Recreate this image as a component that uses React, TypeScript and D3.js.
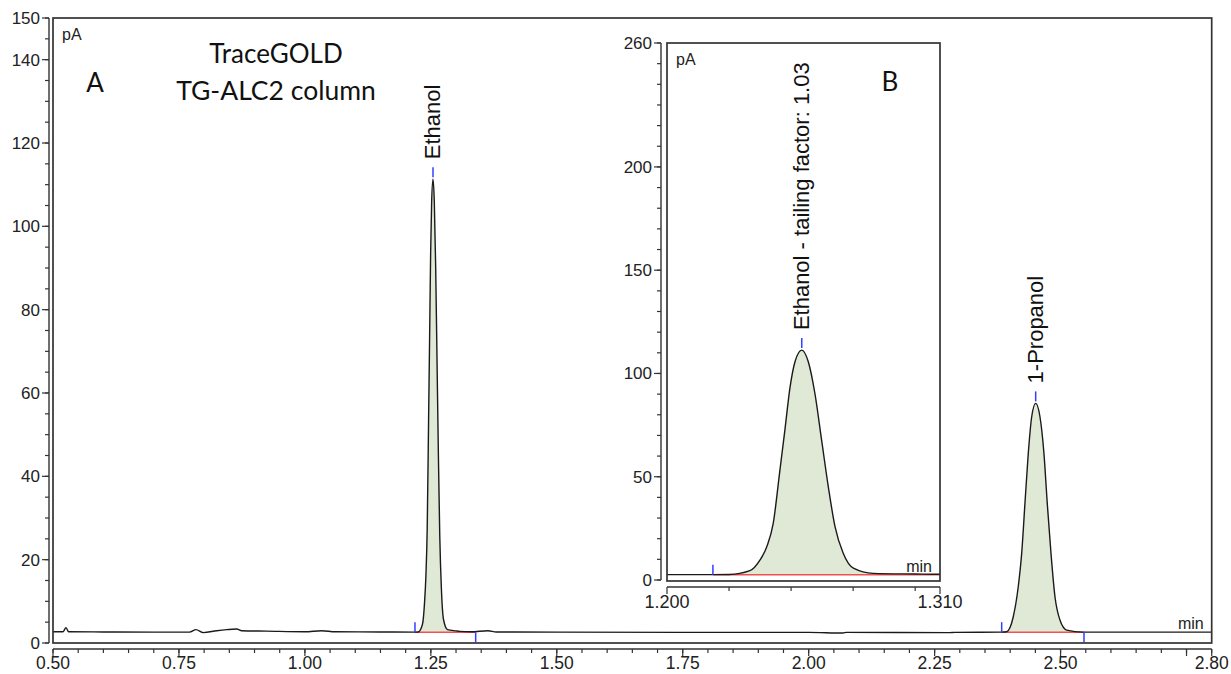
import React, { useEffect, useRef } from 'react';
import * as d3 from 'd3';

// trace: [retention time (min), signal (pA)]
const baselineBefore: [number, number][] = [
  [0.5, 2.7], [0.52, 2.7], [0.5258, 3.7], [0.531, 2.7], [0.6, 2.65], [0.7, 2.6],
  [0.771, 2.6], [0.7838, 3.2], [0.7983, 2.5], [0.825, 2.95], [0.845, 3.2],
  [0.8646, 3.35], [0.8746, 2.95], [0.924, 2.85], [1.0, 2.7], [1.0333, 2.95],
  [1.06, 2.7], [1.15, 2.65], [1.2185, 2.6], [1.225, 2.65],
];
const ethanolPeak: [number, number][] = [
  [1.2334, 4.5], [1.2375, 9.7], [1.2402, 16.1], [1.2428, 27.4], [1.2455, 53.2],
  [1.2475, 72.6], [1.2496, 93.5], [1.2516, 105.8], [1.2543, 111.3], [1.2569, 105.8],
  [1.2596, 90.3], [1.2623, 67.7], [1.265, 45.1], [1.2677, 25.8], [1.271, 12.9],
  [1.2751, 5.7], [1.2831, 3.2],
];
const baselineMiddle: [number, number][] = [
  [1.3, 2.9], [1.3072, 2.8], [1.33, 2.7], [1.3634, 2.95], [1.38, 2.65], [1.5, 2.6],
  [1.75, 2.55], [2.0, 2.55], [2.068, 2.4], [2.075, 2.55], [2.28, 2.5], [2.29, 2.55],
  [2.3831, 2.6], [2.393, 2.7],
];
const propanolPeak: [number, number][] = [
  [2.4061, 6.3], [2.416, 13.5], [2.4228, 21.5], [2.4293, 33.5], [2.4359, 45.5],
  [2.4427, 54.3], [2.4506, 57.5], [2.4591, 54.3], [2.467, 45.5], [2.4736, 33.5],
  [2.481, 21.5], [2.4889, 11.1], [2.4988, 5.5], [2.5121, 3.1],
];
const baselineAfter: [number, number][] = [[2.5445, 2.6], [2.7, 2.6], [2.8, 2.6]];

const peaks = [
  { name: 'Ethanol', inset: 'Ethanol - tailing factor: 1.03', data: ethanolPeak, limits: [1.2185, 1.339] },
  { name: '1-Propanol', inset: '', data: propanolPeak, limits: [2.3831, 2.5465] },
];
const integrationBase = 2.6;

const mainYLabels = [0, 20, 40, 60, 80, 100, 120, 140, 150];
const mainXLabels = [0.5, 0.75, 1.0, 1.25, 1.5, 1.75, 2.0, 2.25, 2.5, 2.8];
const insetYLabels = [0, 50, 100, 150, 200, 260];
const insetXLabels = [1.2, 1.31];

const W = 1231;
const H = 674;
const tickFont = 'Liberation Sans, Arial, sans-serif';
const titleFont = 'Lato, Open Sans, sans-serif';
const traceColor = '#1a1a1a';
const fillColor = '#e0e8d6';
const redColor = '#f05050';
const blueColor = '#3040ff';

const App = () => {
  const svgRef = useRef<SVGSVGElement>(null);

  useEffect(() => {
    const trace = [...baselineBefore, ...ethanolPeak, ...baselineMiddle, ...propanolPeak, ...baselineAfter];

    const svg = d3.select(svgRef.current);
    svg.selectAll('*').remove();
    svg.attr('viewBox', [0, 0, W, H]);

    const drawPanel = (opts) => {
      const { x, y, frame, yAxisX, xAxisY, yTicks, yMinor, xTicks, xMinor, xLabels, yLabels, fmtX, id, peakList } = opts;
      const g = svg.append('g');

      g.append('defs').append('clipPath').attr('id', id)
        .append('rect')
        .attr('x', frame.left).attr('y', frame.top)
        .attr('width', frame.right - frame.left).attr('height', frame.bottom - frame.top);

      g.append('rect')
        .attr('x', frame.left).attr('y', frame.top)
        .attr('width', frame.right - frame.left).attr('height', frame.bottom - frame.top)
        .attr('fill', 'white');

      const plot = g.append('g').attr('clip-path', `url(#${id})`);

      // peak fills down to the integration baseline
      peakList.forEach((p, i) => {
        const cid = `${id}-fill-${i}`;
        g.append('defs').append('clipPath').attr('id', cid)
          .append('rect')
          .attr('x', x(p.limits[0])).attr('y', frame.top)
          .attr('width', x(p.limits[1]) - x(p.limits[0])).attr('height', frame.bottom - frame.top);
        plot.append('path')
          .datum(trace)
          .attr('clip-path', `url(#${cid})`)
          .attr('fill', fillColor)
          .attr('d', d3.area<[number, number]>()
            .x(d => x(d[0]))
            .y0(y(integrationBase))
            .y1(d => y(d[1]))
            .curve(d3.curveMonotoneX));
      });

      // red integration baselines
      peakList.forEach(p => {
        plot.append('line')
          .attr('x1', x(p.limits[0])).attr('x2', x(p.limits[1]))
          .attr('y1', y(integrationBase)).attr('y2', y(integrationBase))
          .attr('stroke', redColor).attr('stroke-width', 1.5);
      });

      plot.append('path')
        .datum(trace)
        .attr('fill', 'none')
        .attr('stroke', traceColor)
        .attr('stroke-width', 1.4)
        .attr('d', d3.line<[number, number]>().x(d => x(d[0])).y(d => y(d[1])).curve(d3.curveMonotoneX));

      // integration start/end markers and apex markers
      peakList.forEach(p => {
        const by = y(integrationBase);
        plot.append('line')
          .attr('x1', x(p.limits[0])).attr('x2', x(p.limits[0]))
          .attr('y1', by - 10).attr('y2', by)
          .attr('stroke', blueColor).attr('stroke-width', 1.5);
        plot.append('line')
          .attr('x1', x(p.limits[1])).attr('x2', x(p.limits[1]))
          .attr('y1', by).attr('y2', by + 10)
          .attr('stroke', blueColor).attr('stroke-width', 1.5);

        const apex = d3.greatest(p.data, d => d[1]);
        const ax = x(apex[0]);
        const ay = y(apex[1]);
        g.append('line')
          .attr('x1', ax).attr('x2', ax)
          .attr('y1', ay - 12).attr('y2', ay - 2)
          .attr('stroke', blueColor).attr('stroke-width', 1.5);
        const label = opts.inset ? p.inset : p.name;
        if (label) {
          g.append('text')
            .attr('transform', `translate(${ax + 7},${ay - 20}) rotate(-90)`)
            .attr('font-family', tickFont)
            .attr('font-size', 22)
            .attr('fill', '#111')
            .text(label);
        }
      });

      g.append('rect')
        .attr('x', frame.left).attr('y', frame.top)
        .attr('width', frame.right - frame.left).attr('height', frame.bottom - frame.top)
        .attr('fill', 'none')
        .attr('stroke', '#333')
        .attr('stroke-width', 1.7);

      // y axis
      g.append('line')
        .attr('x1', yAxisX).attr('x2', yAxisX)
        .attr('y1', y(y.domain()[1])).attr('y2', y(0))
        .attr('stroke', '#333').attr('stroke-width', 1.4);
      yMinor.forEach(v => {
        g.append('line')
          .attr('x1', yAxisX - 4).attr('x2', yAxisX)
          .attr('y1', y(v)).attr('y2', y(v))
          .attr('stroke', '#333').attr('stroke-width', 1.2);
      });
      yTicks.forEach(v => {
        g.append('line')
          .attr('x1', yAxisX - 7).attr('x2', yAxisX)
          .attr('y1', y(v)).attr('y2', y(v))
          .attr('stroke', '#333').attr('stroke-width', 1.2);
      });
      yLabels.forEach(v => {
        g.append('text')
          .attr('x', yAxisX - 9).attr('y', y(v) + 6)
          .attr('text-anchor', 'end')
          .attr('font-family', tickFont).attr('font-size', 17).attr('fill', '#222')
          .text(v);
      });

      // x axis
      g.append('line')
        .attr('x1', x(x.domain()[0])).attr('x2', x(x.domain()[1]))
        .attr('y1', xAxisY).attr('y2', xAxisY)
        .attr('stroke', '#333').attr('stroke-width', 1.4);
      xMinor.forEach(v => {
        g.append('line')
          .attr('x1', x(v)).attr('x2', x(v))
          .attr('y1', xAxisY).attr('y2', xAxisY + 4)
          .attr('stroke', '#333').attr('stroke-width', 1.2);
      });
      xTicks.forEach(v => {
        g.append('line')
          .attr('x1', x(v)).attr('x2', x(v))
          .attr('y1', xAxisY).attr('y2', xAxisY + 7)
          .attr('stroke', '#333').attr('stroke-width', 1.2);
      });
      xLabels.forEach(v => {
        g.append('text')
          .attr('x', x(v)).attr('y', xAxisY + opts.labelOffset)
          .attr('text-anchor', 'middle')
          .attr('font-family', tickFont).attr('font-size', opts.labelSize).attr('fill', '#222')
          .text(fmtX(v));
      });

      g.append('text')
        .attr('x', frame.left + 9).attr('y', frame.top + 22)
        .attr('font-family', tickFont).attr('font-size', 16).attr('fill', '#222')
        .text('pA');
      g.append('text')
        .attr('x', frame.right - 8).attr('y', y(integrationBase) - 3)
        .attr('text-anchor', 'end')
        .attr('font-family', tickFont).attr('font-size', 16).attr('fill', '#222')
        .text('min');
      return g;
    };

    // main chromatogram (A)
    const x = d3.scaleLinear().domain([0.5, 2.8]).range([53, 1211.7]);
    const y = d3.scaleLinear().domain([0, 150]).range([643, 18]);
    const main = drawPanel({
      id: 'clipA', x, y,
      frame: { left: 53, right: 1211.7, top: 18, bottom: 643 },
      yAxisX: 49, xAxisY: 649,
      yTicks: [...d3.range(0, 141, 20), 150],
      yMinor: d3.range(0, 151, 5),
      yLabels: mainYLabels,
      xTicks: d3.range(0, 10).map(i => 0.5 + i * 0.25).concat([2.8]),
      xMinor: d3.range(0, 47).map(i => 0.5 + i * 0.05),
      xLabels: mainXLabels,
      fmtX: d3.format('.2f'),
      labelOffset: 20,
      labelSize: 17.5,
      peakList: peaks,
      inset: false,
    });
    main.append('text')
      .attr('x', 276).attr('y', 63)
      .attr('text-anchor', 'middle')
      .attr('font-family', titleFont).attr('font-size', 26).attr('fill', '#111')
      .text('TraceGOLD');
    main.append('text')
      .attr('x', 276).attr('y', 100)
      .attr('text-anchor', 'middle')
      .attr('font-family', titleFont).attr('font-size', 26.5).attr('fill', '#111')
      .text('TG-ALC2 column');
    main.append('text')
      .attr('x', 95).attr('y', 92)
      .attr('text-anchor', 'middle')
      .attr('font-family', titleFont).attr('font-size', 26).attr('fill', '#111')
      .text('A');

    // zoomed ethanol peak (B)
    const xi = d3.scaleLinear().domain([1.2, 1.31]).range([667, 940]);
    const yi = d3.scaleLinear().domain([0, 260]).range([580, 43]);
    const inset = drawPanel({
      id: 'clipB', x: xi, y: yi,
      frame: { left: 667, right: 940, top: 43, bottom: 581 },
      yAxisX: 661, xAxisY: 587,
      yTicks: [0, 50, 100, 150, 200, 260],
      yMinor: d3.range(0, 261, 10),
      yLabels: insetYLabels,
      xTicks: [1.2, 1.31],
      xMinor: [1.225, 1.25, 1.275, 1.3],
      xLabels: insetXLabels,
      fmtX: d3.format('.3f'),
      labelOffset: 21,
      labelSize: 18,
      peakList: [{ ...peaks[0], limits: [1.2185, 1.32] }],
      inset: true,
    });
    inset.append('text')
      .attr('x', 890).attr('y', 91)
      .attr('text-anchor', 'middle')
      .attr('font-family', titleFont).attr('font-size', 26).attr('fill', '#111')
      .text('B');
  }, []);

  return (
    <svg ref={svgRef} width={W} height={H} style={{ position: 'absolute', left: 0, top: 0, display: 'block' }}></svg>
  );
};

export default App;
